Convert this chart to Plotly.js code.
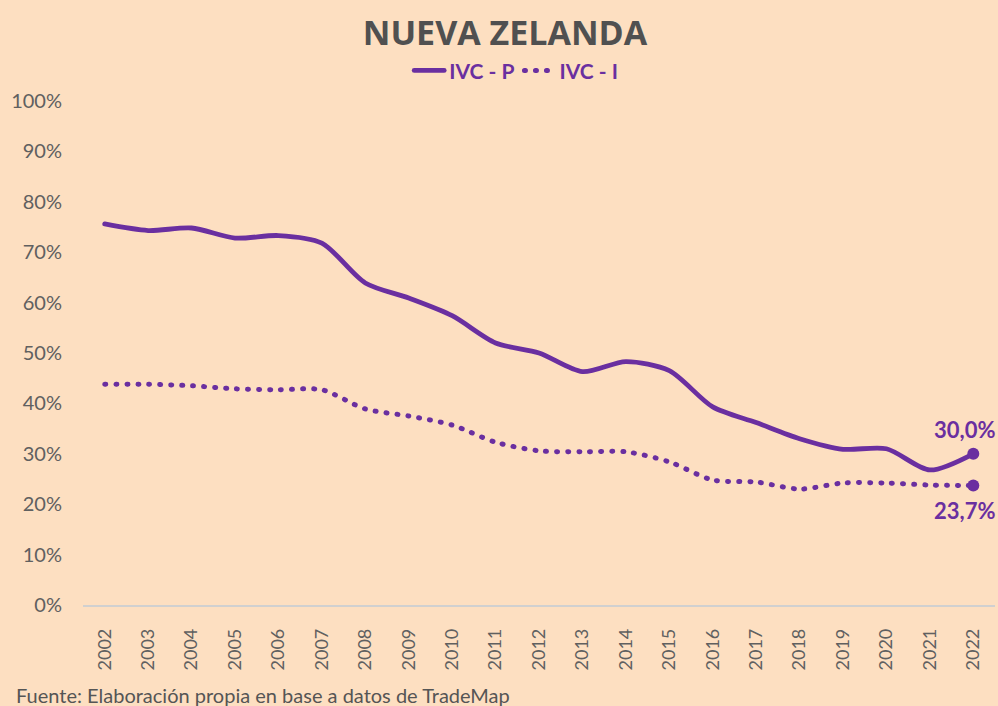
<!DOCTYPE html>
<html><head><meta charset="utf-8">
<script src="https://cdn.plot.ly/plotly-3.0.1.min.js"></script>
<style>
html,body{margin:0;padding:0;background:#fddfc1;}
#chart{width:998px;height:706px;}
.scatterlayer .js-line, .legendlines path{stroke-linecap:round;}
</style>
</head><body>
<div id="chart"></div>
<script>
const years = [2002,2003,2004,2005,2006,2007,2008,2009,2010,2011,2012,2013,2014,2015,2016,2017,2018,2019,2020,2021,2022];
const ivcP = [75.6,74.3,74.8,72.8,73.3,71.8,63.9,60.9,57.4,52.0,50.0,46.3,48.3,46.5,39.3,36.2,33.0,30.9,31.0,26.8,30.0];
const ivcI = [43.8,43.8,43.5,42.9,42.7,42.7,38.9,37.5,35.7,32.3,30.6,30.4,30.4,28.4,24.8,24.4,23.0,24.2,24.2,23.8,23.7];
const seriesNames = ['IVC - P','IVC - I'];
const endLabels = ['30,0%','23,7%'];
const yTicks = [0,10,20,30,40,50,60,70,80,90,100];
const yTickText = yTicks.map(v => v + '%');
const xTickText = years.map(String);

const purple = '#6a2fa0';
const last = years.length - 1;
const FONT = 'Lato';

const traces = [
  {x: years, y: ivcP, name: seriesNames[0], type: 'scatter', mode: 'lines',
   line: {color: purple, width: 4.8, shape: 'spline', smoothing: 0.8}},
  {x: years, y: ivcI, name: seriesNames[1], type: 'scatter', mode: 'lines',
   line: {color: purple, width: 5, shape: 'spline', smoothing: 0.8, dash: '1px,10px'}},
  {x: [years[last]], y: [ivcP[last]], type: 'scatter', mode: 'markers', showlegend: false,
   marker: {color: purple, size: 12}},
  {x: [years[last]], y: [ivcI[last]], type: 'scatter', mode: 'markers', showlegend: false,
   marker: {color: purple, size: 12}}
];

const layout = {
  width: 998, height: 706,
  paper_bgcolor: '#fddfc1', plot_bgcolor: '#fddfc1',
  margin: {l: 83, r: 3, t: 101, b: 101},
  title: {text: '<b>NUEVA ZELANDA</b>', x: 0.506, xanchor: 'center', y: 0.953, yanchor: 'middle',
          font: {family: 'Open Sans', size: 34, color: '#505050'}},
  showlegend: true,
  legend: {orientation: 'h', x: 0.475, xanchor: 'center', y: 1.06, yanchor: 'middle',
           font: {family: FONT, size: 21, color: purple, weight: 'bold'},
           bgcolor: 'rgba(0,0,0,0)', tracegroupgap: 0},
  xaxis: {range: [2001.5, 2022.5], tickvals: years, ticktext: xTickText,
          showgrid: false, zeroline: false, showline: true,
          linecolor: '#d0d0d0', linewidth: 1.5, tickangle: -90, ticks: '',
          ticklabelstandoff: 15,
          tickfont: {family: FONT, size: 18, color: '#606060'}},
  yaxis: {range: [0, 100], tickvals: yTicks, ticktext: yTickText, showgrid: false,
          zeroline: false, showline: false, ticks: '', ticklabelstandoff: 20,
          tickfont: {family: FONT, size: 20, color: '#606060'}},
  annotations: [
    {x: years[last], y: ivcP[last], text: '<b>' + endLabels[0] + '</b>', showarrow: false,
     xanchor: 'center', yanchor: 'bottom', yshift: 9, xshift: -9,
     font: {family: FONT, size: 22, color: purple}},
    {x: years[last], y: ivcI[last], text: '<b>' + endLabels[1] + '</b>', showarrow: false,
     xanchor: 'center', yanchor: 'top', yshift: -9, xshift: -9,
     font: {family: FONT, size: 22, color: purple}},
    {xref: 'paper', yref: 'paper', x: -0.076, y: -0.15, xanchor: 'left', yanchor: 'top',
     text: 'Fuente: Elaboración propia en base a datos de TradeMap', showarrow: false,
     font: {family: FONT, size: 20, color: '#555555'}}
  ]
};

Plotly.newPlot('chart', traces, layout, {displayModeBar: false, staticPlot: true});
</script>
</body></html>
